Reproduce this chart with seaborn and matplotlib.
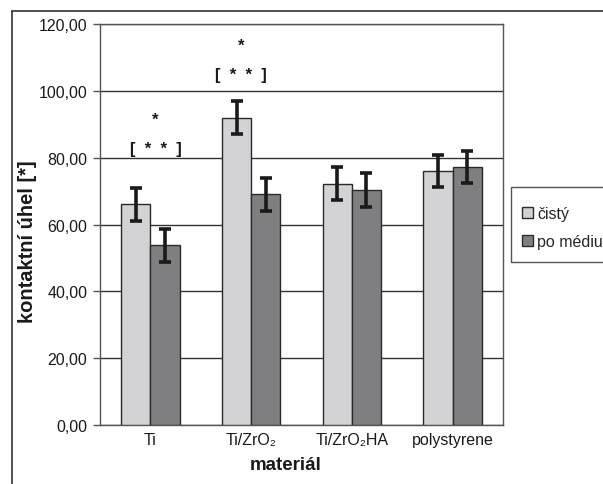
import pandas as pd
import seaborn as sns
from matplotlib import pyplot as plt
from matplotlib.lines import Line2D
from matplotlib.patches import Rectangle
from matplotlib.ticker import FuncFormatter, MultipleLocator, FixedLocator

# data
materials = ["Ti", "Ti/ZrO₂", "Ti/ZrO₂HA", "polystyrene"]
cisty = [66.0, 92.0, 72.2, 76.0]
cisty_err = [5.0, 5.0, 5.0, 4.8]
po_mediu = [53.8, 69.0, 70.3, 77.3]
po_mediu_err = [5.0, 4.9, 5.0, 4.8]
series = ["čistý", "po médiu"]

data = pd.DataFrame({
    "materiál": materials * 2,
    "serie": [series[0]] * 4 + [series[1]] * 4,
    "uhel": cisty + po_mediu,
    "err": cisty_err + po_mediu_err,
})


def main():
    sns.set_style("white")
    plt.rcParams["font.family"] = ["Liberation Sans", "DejaVu Sans"]

    fig = plt.figure(figsize=(6.03, 4.85), dpi=100)
    ax = fig.add_axes([100 / 603, 59 / 485, 403 / 603, 401 / 485])

    sns.barplot(data=data, x="materiál", y="uhel", hue="serie", ax=ax,
                palette=["#d3d3d5", "#7e7f82"], width=0.58, gap=0,
                edgecolor="#2a2a2a", linewidth=1, errorbar=None, zorder=3)

    # error bars at the bar centres
    for cont, s in zip(ax.containers, series):
        errs = data.loc[data["serie"] == s, "err"].to_numpy()
        xs = [p.get_x() + p.get_width() / 2 for p in cont.patches]
        ys = [p.get_height() for p in cont.patches]
        ax.errorbar(xs, ys, yerr=errs, fmt="none", ecolor="#1a1a1a",
                    elinewidth=2.6, capsize=4.5, capthick=2.6, zorder=4)

    ax.set_ylim(0, 120)
    ax.set_xlim(-0.5, 3.5)
    ax.yaxis.set_major_locator(MultipleLocator(20))
    ax.yaxis.set_major_formatter(FuncFormatter(lambda v, p: f"{v:.2f}".replace(".", ",")))
    ax.grid(axis="y", color="#333333", linewidth=1, zorder=0)
    ax.set_axisbelow(True)
    for sp in ax.spines.values():
        sp.set_color("#555555")
        sp.set_linewidth(1)

    ax.xaxis.set_minor_locator(FixedLocator([-0.5, 0.5, 1.5, 2.5, 3.5]))
    ax.tick_params(axis="x", which="major", length=0, pad=5, labelsize=11.5, colors="#1a1a1a")
    ax.tick_params(axis="x", which="minor", length=5, width=1, color="#555555", direction="out")
    ax.tick_params(axis="y", length=5, width=1, color="#555555", direction="out", pad=4,
                   labelsize=11.5, left=True, labelcolor="#1a1a1a")

    ax.set_xlabel("materiál", fontsize=13.5, fontweight="bold", color="#1a1a1a")
    ax.set_ylabel("kontaktní úhel [*]", fontsize=14.5, fontweight="bold", color="#1a1a1a")
    ax.xaxis.set_label_coords(0.46, -0.078)
    ax.yaxis.set_label_coords(-0.156, 0.459)

    # significance marks
    for x, y1, y2 in [(0.05, 91.6, 82.6), (0.9, 113.5, 105.0)]:
        ax.text(x, y1, "*", ha="center", va="center", fontsize=12, fontweight="bold", color="#1a1a1a")
        ax.text(x, y2, "[  *  *  ]", ha="center", va="center", fontsize=12, fontweight="bold", color="#1a1a1a")

    leg = ax.legend(loc="upper left", bbox_to_anchor=(522 / 603, 1 - 207 / 485),
                    bbox_transform=fig.transFigure, frameon=False,
                    fontsize=11.5, handlelength=0.7, handleheight=0.7, handletextpad=0.25,
                    borderpad=0, labelspacing=0.8, borderaxespad=0)
    for h in leg.legend_handles:
        h.set_edgecolor("#2a2a2a")
    # legend box, running past the right edge as in the reference
    fig.add_artist(Rectangle((511 / 603, 1 - 263 / 485), 100 / 603, 75 / 485,
                             transform=fig.transFigure, fill=False,
                             edgecolor="#555555", lw=1))

    # outer frame of the chart area
    fig.add_artist(Line2D([12 / 603, 1], [1 - 12 / 485] * 2, color="#333333", lw=1.2))
    fig.add_artist(Line2D([12 / 603] * 2, [0, 1 - 12 / 485], color="#333333", lw=1.2))

    fig.savefig("out.png", dpi=100)


if __name__ == "__main__":
    main()
